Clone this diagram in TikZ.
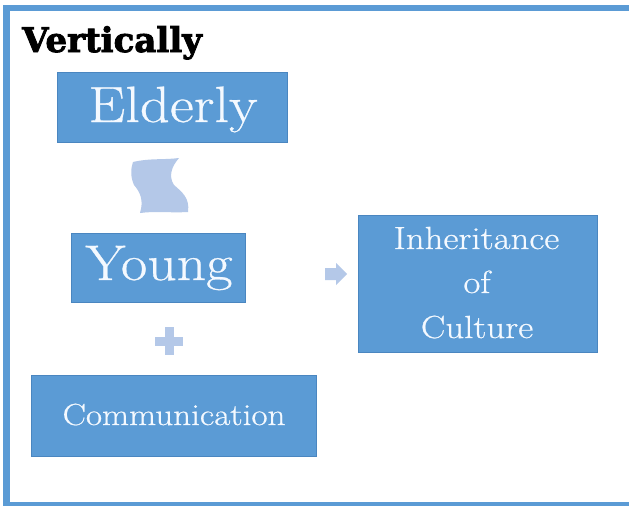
\documentclass[tikz,border=0pt]{standalone}
\usepackage{fontspec}
\newfontfamily\titlefont[FakeBold=2.5]{DejaVu Serif}
\newfontfamily\boxfont[FakeStretch=1.15,FakeBold=0.6]{Latin Modern Roman}
\begin{document}
\begin{tikzpicture}[x=1pt,y=-1pt,
  box/.style={draw=boxedge,fill=boxblue,line width=0.8pt,inner sep=0},
  lbl/.style={anchor=base,text=textc,inner sep=0},
  light/.style={fill=lightblue,draw=none}]
\definecolor{boxblue}{HTML}{5B9BD5}
\definecolor{boxedge}{HTML}{4A86C0}
\definecolor{lightblue}{HTML}{B4C8E8}
\definecolor{framec}{HTML}{5B9BD5}
\definecolor{textc}{HTML}{F4F9FF}
\useasboundingbox (0,0) rectangle (629,506);
\fill[white] (0,0) rectangle (629,506);
% frame
\fill[framec] (3,5) rectangle (629,11);
\fill[framec] (3,5) rectangle (10,506);
\fill[framec] (3,502) rectangle (629,506);
% title
\node[anchor=base west,font=\titlefont\bfseries\fontsize{34}{38}\selectfont,inner sep=0] (title) at (22,52) {Vertically};
% boxes
\node[box,minimum width=230,minimum height=70] (elderly) at (172,107) {};
\node[box,minimum width=174,minimum height=69] (young) at (158,267.5) {};
\node[box,minimum width=285,minimum height=81] (comm) at (173.5,415.5) {};
\node[box,minimum width=239,minimum height=137] (inh) at (477.5,283.5) {};
% labels
\node[lbl,font=\boxfont\fontsize{51}{55}\selectfont] (tE) at (173,122) {Elderly};
\node[lbl,font=\boxfont\fontsize{50}{55}\selectfont] (tY) at (159,280) {Young};
\node[lbl,font=\boxfont\fontsize{30.5}{34}\selectfont] (tC) at (174,425) {Communication};
\node[lbl,font=\boxfont\fontsize{32}{34}\selectfont] (tI1) at (476.5,249) {Inheritance};
\node[lbl,font=\boxfont\fontsize{32}{34}\selectfont] (tI2) at (477,293) {of};
\node[lbl,font=\boxfont\fontsize{32}{34}\selectfont] (tI3) at (477,338) {Culture};
% scroll shape
\fill[lightblue] (133,162) .. controls (150,158) and (165,160) .. (179,158)
  .. controls (172,166) and (168,176) .. (174,185)
  .. controls (182,192) and (190,198) .. (188,212)
  .. controls (172,213) and (155,211) .. (140,213)
  .. controls (144,200) and (140,192) .. (134,185)
  .. controls (130,176) and (131,168) .. (133,162) -- cycle;
% plus
\fill[lightblue] (165,327) rectangle (174,355);
\fill[lightblue] (155,337) rectangle (183,346);
% arrow
\fill[lightblue] (325,268) -- (336,268) -- (336,263) -- (347,274) -- (336,285) -- (336,280) -- (325,280) -- cycle;
\end{tikzpicture}
\end{document}
